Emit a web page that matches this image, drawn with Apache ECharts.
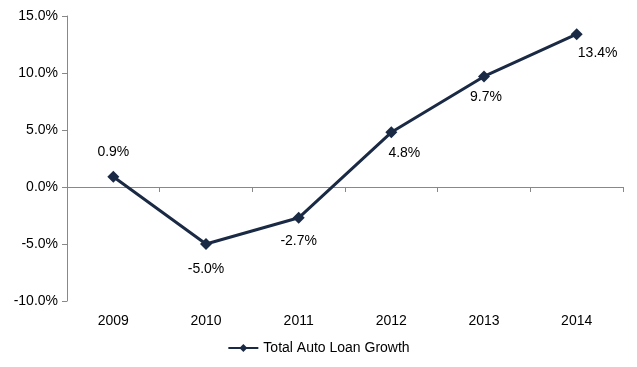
<!DOCTYPE html>
<html><head><meta charset="utf-8">
<script src="https://cdn.jsdelivr.net/npm/echarts@6/dist/echarts.min.js"></script>
<style>html,body{margin:0;padding:0;background:#fff}#c{width:637px;height:367px}</style>
</head><body><div id="c"></div>
<script>
const categories = ['2009','2010','2011','2012','2013','2014'];
const seriesName = 'Total Auto Loan Growth';
const values = [0.9, -5.0, -2.7, 4.8, 9.7, 13.4];
const labelPlacement = ['top','bottom','bottom','bottom','bottom','bottom'];
const labelShift = [[0,0],[0,0],[0,-2],[13,-4],[2,-4],[21,-6]];

const FONT = 'Liberation Sans';
const color = '#1B2A44';
const chart = echarts.init(document.getElementById('c'));
chart.setOption({
  animation: false,
  textStyle: {fontFamily: FONT},
  grid: {left: 67, right: 14, top: 16, bottom: 66},
  legend: {
    bottom: 7, left: 'center',
    data: [seriesName],
    itemWidth: 30, itemHeight: 10,
    textStyle: {fontFamily: FONT, fontSize: 14, color: '#000'}
  },
  xAxis: [{
    type: 'category', data: categories, boundaryGap: true,
    axisLine: {show: true, onZero: true, lineStyle: {color: '#888', width: 1}},
    axisTick: {show: true, alignWithLabel: false, length: 5, lineStyle: {color: '#888'}},
    axisLabel: {show: false}
  }, {
    type: 'category', data: categories, position: 'bottom', boundaryGap: true,
    axisLine: {show: false, onZero: false}, axisTick: {show: false},
    axisLabel: {color: '#000', fontSize: 14, margin: 13, fontFamily: FONT}
  }],
  yAxis: {
    type: 'value', min: -10, max: 15, interval: 5,
    splitLine: {show: false},
    axisLine: {show: true, lineStyle: {color: '#888'}},
    axisTick: {show: true, length: 5, lineStyle: {color: '#888'}},
    axisLabel: {color: '#000', fontSize: 14, margin: 9, fontFamily: FONT,
      formatter: v => v.toFixed(1) + '%'}
  },
  series: [{
    name: seriesName, type: 'line', xAxisIndex: 0,
    data: values.map((v, i) => ({
      value: v,
      label: {position: labelPlacement[i], offset: labelShift[i]}
    })),
    symbol: 'diamond', symbolSize: 12,
    lineStyle: {color: color, width: 3},
    itemStyle: {color: color},
    label: {show: true, distance: 12, color: '#000', fontSize: 14, fontFamily: FONT,
      formatter: p => p.value.toFixed(1) + '%'}
  }]
});
</script></body></html>
